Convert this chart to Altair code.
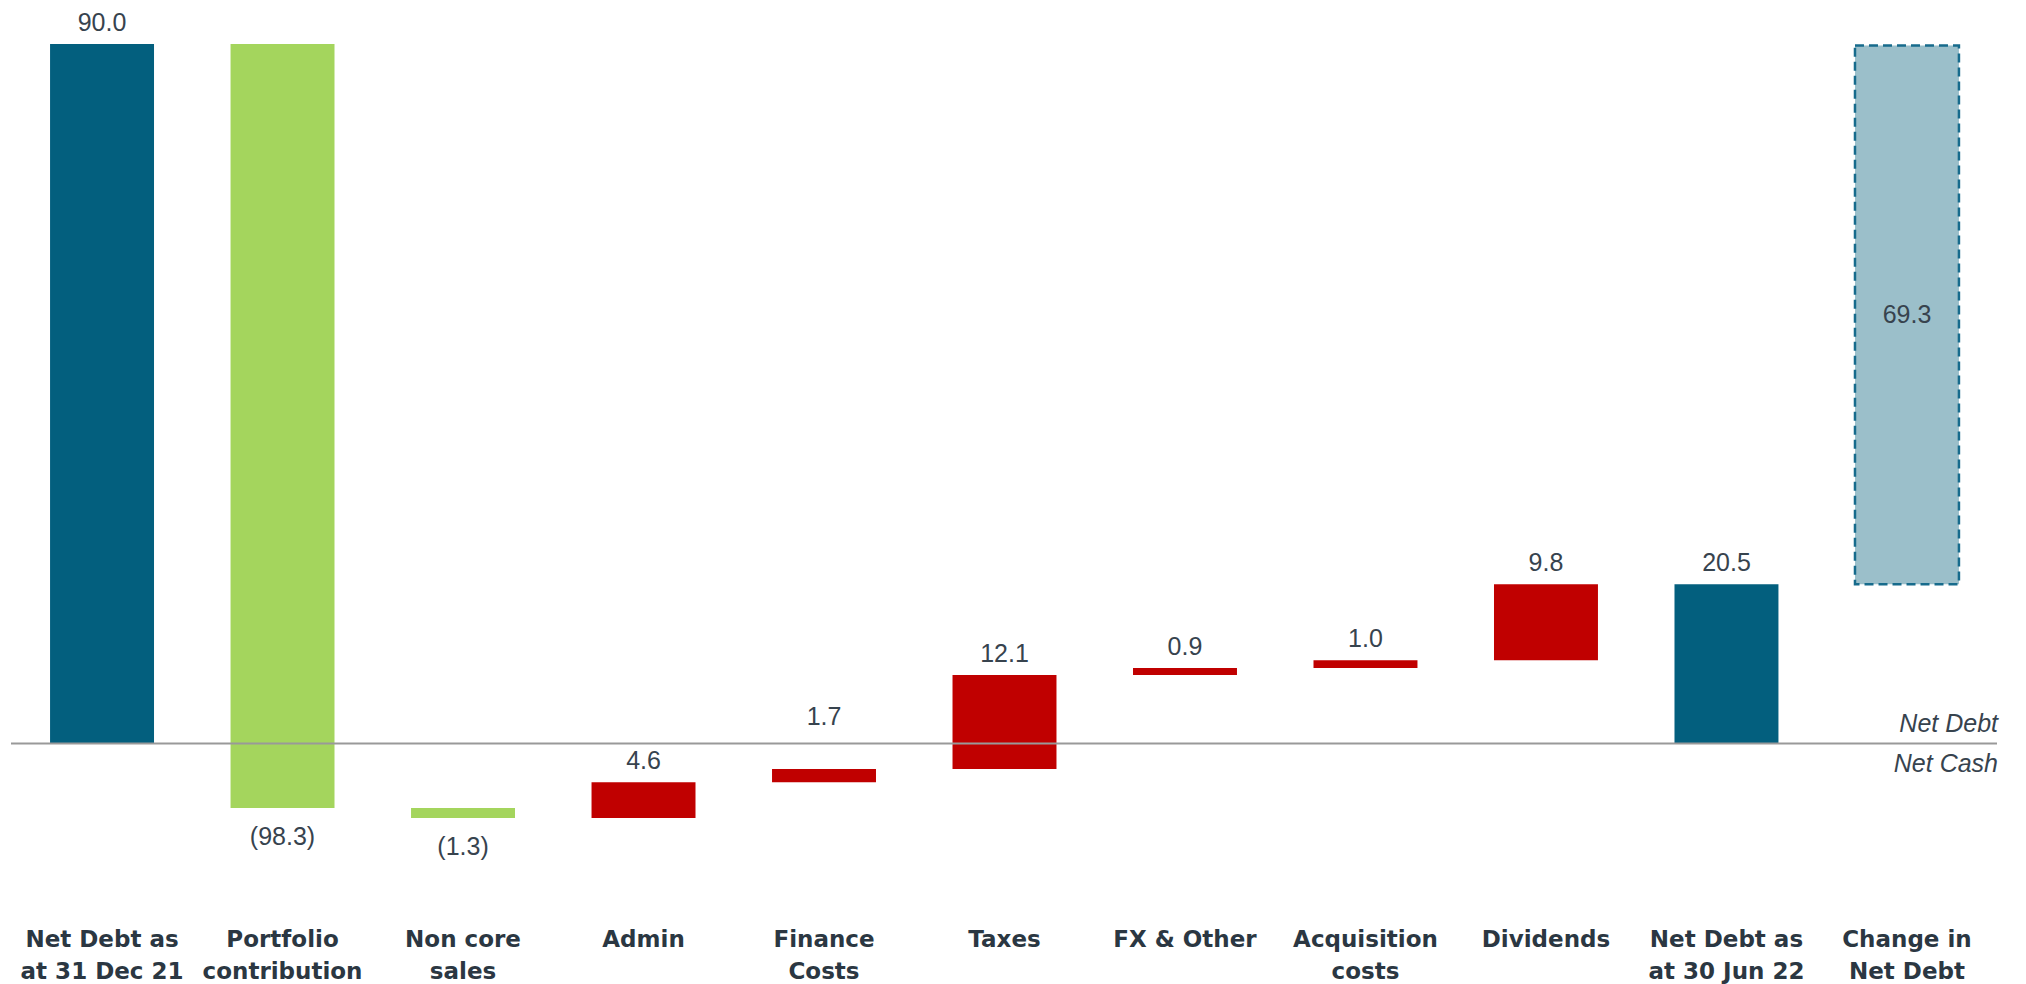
import altair as alt
import pandas as pd

categories = ["Net Debt as|at 31 Dec 21", "Portfolio|contribution", "Non core|sales", "Admin",
              "Finance|Costs", "Taxes", "FX & Other", "Acquisition|costs", "Dividends",
              "Net Debt as|at 30 Jun 22", "Change in|Net Debt"]
values = [90.0, -98.3, -1.3, 4.6, 1.7, 12.1, 0.9, 1.0, 9.8, 20.5, 69.3]
kinds = ["total", "down", "down", "up", "up", "up", "up", "up", "up", "total", "change"]

rows = []
run = 0.0
for c, v, k in zip(categories, values, kinds):
    if k == "total":
        s, e = 0.0, v
        run = v
    elif k == "change":
        s, e = run, run + v
    else:
        s, e = run, run + v
        run = e
    lab = f"{v:.1f}" if v >= 0 else f"({abs(v):.1f})"
    if k == "change":
        ly = (s + e) / 2
    elif v >= 0:
        ly = max(s, e)
    else:
        ly = min(s, e)
    rows.append(dict(cat=c, start=s, end=e, kind=k, label=lab, ly=ly))
df = pd.DataFrame(rows)

TXT = "#37434e"
x_enc = alt.X("cat:N", sort=categories,
              scale=alt.Scale(paddingInner=0.424, paddingOuter=0.233),
              axis=alt.Axis(title=None, labelAngle=0, domain=False, ticks=False,
                            labelExpr="split(datum.label, '|')",
                            labelFont="DejaVu Sans", labelFontWeight="bold",
                            labelFontSize=23, labelLineHeight=32, labelColor="#2b3742",
                            labelPadding=28, labelLimit=400, grid=False))
y_scale = alt.Scale(domain=[-20.14, 94.63], nice=False, zero=False)

base = alt.Chart(df)

bars = base.transform_filter("datum.kind != 'change'").mark_bar().encode(
    x=x_enc,
    y=alt.Y("start:Q", scale=y_scale, axis=None),
    y2="end:Q",
    color=alt.Color("kind:N", legend=None,
                    scale=alt.Scale(domain=["total", "down", "up"],
                                    range=["#035f7e", "#a4d55d", "#c00000"])),
)

change = base.transform_filter("datum.kind == 'change'").mark_bar(
    fill="#9bbfca", stroke="#176b8c", strokeDash=[9, 5], strokeWidth=2.5
).encode(x=x_enc, y=alt.Y("start:Q", scale=y_scale, axis=None), y2="end:Q")

rule = alt.Chart(pd.DataFrame({"v": [0]})).mark_rule(color="#999999", strokeWidth=2).encode(
    y=alt.Y("v:Q", scale=y_scale, axis=None), x=alt.value(3), x2=alt.value(1989))

font = dict(font="Liberation Sans", fontSize=25, color=TXT)

above = base.transform_filter(
    "(datum.kind == 'up' || datum.kind == 'total') && datum.cat != 'Finance|Costs'"
).mark_text(baseline="alphabetic", dy=-13, **font).encode(
    x=x_enc, y=alt.Y("ly:Q", scale=y_scale, axis=None), text="label:N")

above_fin = base.transform_filter("datum.cat == 'Finance|Costs'").mark_text(
    baseline="alphabetic", dy=-44, **font).encode(
    x=x_enc, y=alt.Y("ly:Q", scale=y_scale, axis=None), text="label:N")

below = base.transform_filter("datum.kind == 'down'").mark_text(
    baseline="alphabetic", dy=37, **font).encode(
    x=x_enc, y=alt.Y("ly:Q", scale=y_scale, axis=None), text="label:N")

mid = base.transform_filter("datum.kind == 'change'").mark_text(
    baseline="middle", **font).encode(
    x=x_enc, y=alt.Y("ly:Q", scale=y_scale, axis=None), text="label:N")

side = pd.DataFrame({"t": ["Net Debt", "Net Cash"], "v": [0, 0]})
nd = alt.Chart(side).transform_filter("datum.t == 'Net Debt'").mark_text(
    align="right", baseline="alphabetic", dy=-11, fontStyle="italic",
    font="Liberation Sans", fontSize=25, color=TXT).encode(
    x=alt.value(1990), y=alt.Y("v:Q", scale=y_scale, axis=None), text="t:N")
nc = alt.Chart(side).transform_filter("datum.t == 'Net Cash'").mark_text(
    align="right", baseline="alphabetic", dy=29, fontStyle="italic",
    font="Liberation Sans", fontSize=25, color=TXT).encode(
    x=alt.value(1990), y=alt.Y("v:Q", scale=y_scale, axis=None), text="t:N")

chart = alt.layer(bars, change, rule, above, above_fin, below, mid, nd, nc).properties(
    width=1993, height=892,
    padding={"left": 0, "top": 0, "right": 0, "bottom": 84},
    autosize=alt.AutoSizeParams(type="none"),
).configure_view(stroke=None)

chart.save("out.html", embed_options={"renderer": "svg", "actions": False})
